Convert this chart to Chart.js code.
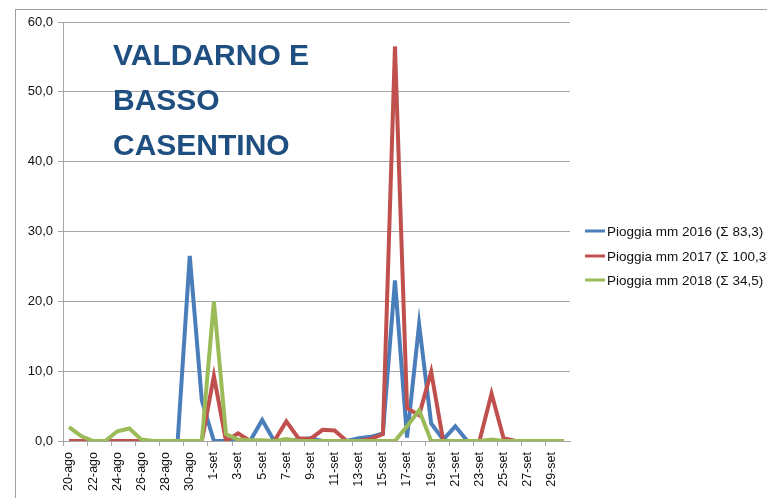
<!DOCTYPE html>
<html>
<head>
<meta charset="utf-8">
<script src="https://cdn.jsdelivr.net/npm/chart.js@4/dist/chart.umd.min.js"></script>
<style>
  html, body { margin: 0; padding: 0; background: #fff; }
  #wrap { width: 767px; height: 498px; }
</style>
</head>
<body>
<div id="wrap"><canvas id="grafico" width="767" height="498"></canvas></div>
<script>
// giorni dal 20 agosto al 30 settembre
const giorni = [
  "20-ago", "21-ago", "22-ago", "23-ago", "24-ago", "25-ago", "26-ago", "27-ago", "28-ago", "29-ago", "30-ago", "31-ago",
  "1-set", "2-set", "3-set", "4-set", "5-set", "6-set", "7-set", "8-set", "9-set", "10-set",
  "11-set", "12-set", "13-set", "14-set", "15-set", "16-set", "17-set", "18-set", "19-set", "20-set",
  "21-set", "22-set", "23-set", "24-set", "25-set", "26-set", "27-set", "28-set", "29-set", "30-set"
];

const pioggia2016 = [
  0, 0, 0, 0, 0, 0, 0, 0, 0, 0, 26.5, 5.8,
  0, 0, 0, 0, 3.0, 0, 0, 0.2, 0.4, 0,
  0, 0, 0.4, 0.6, 1.1, 23.0, 0.5, 16.7, 2.5, 0.2,
  2.1, 0, 0, 0, 0, 0, 0, 0, 0, 0
];
const pioggia2017 = [
  0, 0, 0, 0, 0, 0, 0, 0, 0, 0, 0, 0,
  9.3, 0, 1.1, 0, 0, 0, 2.8, 0.4, 0.3, 1.6,
  1.5, 0, 0, 0.3, 1.0, 56.5, 4.7, 3.7, 9.9, 0,
  0, 0, 0, 6.8, 0.4, 0, 0, 0, 0, 0
];
const pioggia2018 = [
  2.0, 0.7, 0, 0, 1.4, 1.8, 0.2, 0, 0, 0, 0, 0,
  20.0, 1.0, 0.2, 0.1, 0.1, 0, 0.3, 0, 0, 0,
  0, 0, 0, 0, 0, 0, 2.1, 4.4, 0, 0,
  0, 0, 0, 0.2, 0, 0, 0, 0, 0, 0
];

const nomiSerie = ["Pioggia mm 2016 (Σ 83,3)", "Pioggia mm 2017 (Σ 100,3)", "Pioggia mm 2018 (Σ 34,5)"];
const coloriSerie = ["#4a7ebb", "#c0504d", "#9bbb59"];
const titoloRighe = ["VALDARNO E", "BASSO", "CASENTINO"];

const FONT = "'Liberation Sans', Arial, sans-serif";
const GRIGIO = "#a6a6a6";

// cornice, titolo e legenda disegnati a mano
const decorazioni = {
  id: "decorazioni",
  beforeDraw(chart) {
    const ctx = chart.ctx;
    ctx.save();
    ctx.fillStyle = "#fff";
    ctx.fillRect(0, 0, chart.width, chart.height);
    ctx.restore();
  },
  afterDraw(chart) {
    const ctx = chart.ctx;
    ctx.save();
    // cornice esterna
    ctx.strokeStyle = "#a0a0a0";
    ctx.lineWidth = 1;
    ctx.strokeRect(15.5, 9.5, 800, 600);

    // titolo
    ctx.fillStyle = "#1f4e80";
    ctx.font = "bold 30px " + FONT;
    ctx.textBaseline = "alphabetic";
    const basi = [65, 110, 155];
    titoloRighe.forEach((riga, i) => ctx.fillText(riga, 113, basi[i]));

    // legenda
    ctx.font = "13.5px " + FONT;
    ctx.textBaseline = "middle";
    const righe = [231, 256, 280];
    nomiSerie.forEach((nome, i) => {
      ctx.strokeStyle = coloriSerie[i];
      ctx.lineWidth = 3;
      ctx.beginPath();
      ctx.moveTo(585, righe[i]);
      ctx.lineTo(605, righe[i]);
      ctx.stroke();
      ctx.fillStyle = "#111";
      ctx.fillText(nome, 607, righe[i] + 1);
    });
    ctx.restore();
  }
};

const serie = (dati, i, ordine) => ({
  label: nomiSerie[i],
  data: dati,
  borderColor: coloriSerie[i],
  backgroundColor: coloriSerie[i],
  borderWidth: 4,
  pointRadius: 0,
  tension: 0,
  order: ordine,
});

new Chart(document.getElementById("grafico"), {
  type: "line",
  data: {
    labels: giorni,
    datasets: [
      serie(pioggia2016, 0, 3),
      serie(pioggia2017, 1, 2),
      serie(pioggia2018, 2, 1),
    ],
  },
  options: {
    responsive: false,
    animation: false,
    layout: { padding: { top: 22, right: 197, left: 0, bottom: 0 } },
    plugins: {
      legend: { display: false },
      tooltip: { enabled: false },
    },
    scales: {
      x: {
        offset: true,
        afterFit: (s) => { s.height = 57; },
        grid: {
          offset: true,
          drawOnChartArea: false,
          tickLength: 5,
          color: (c) => (c.index % 2 === 0 ? GRIGIO : "rgba(0,0,0,0)"),
        },
        border: { color: GRIGIO },
        ticks: {
          autoSkip: false,
          maxRotation: 90,
          minRotation: 90,
          padding: 6,
          color: "#111",
          font: { family: FONT, size: 12.5 },
          callback: function (v, i) { return i % 2 === 0 ? this.getLabelForValue(v) : ""; },
        },
      },
      y: {
        min: 0,
        max: 60,
        afterFit: (s) => { s.width = 63; },
        grid: { color: GRIGIO, tickLength: 5 },
        border: { color: GRIGIO },
        ticks: {
          stepSize: 10,
          padding: 5,
          color: "#111",
          font: { family: FONT, size: 13 },
          callback: (v) => v.toFixed(1).replace(".", ","),
        },
      },
    },
  },
  plugins: [decorazioni],
});
</script>
</body>
</html>
